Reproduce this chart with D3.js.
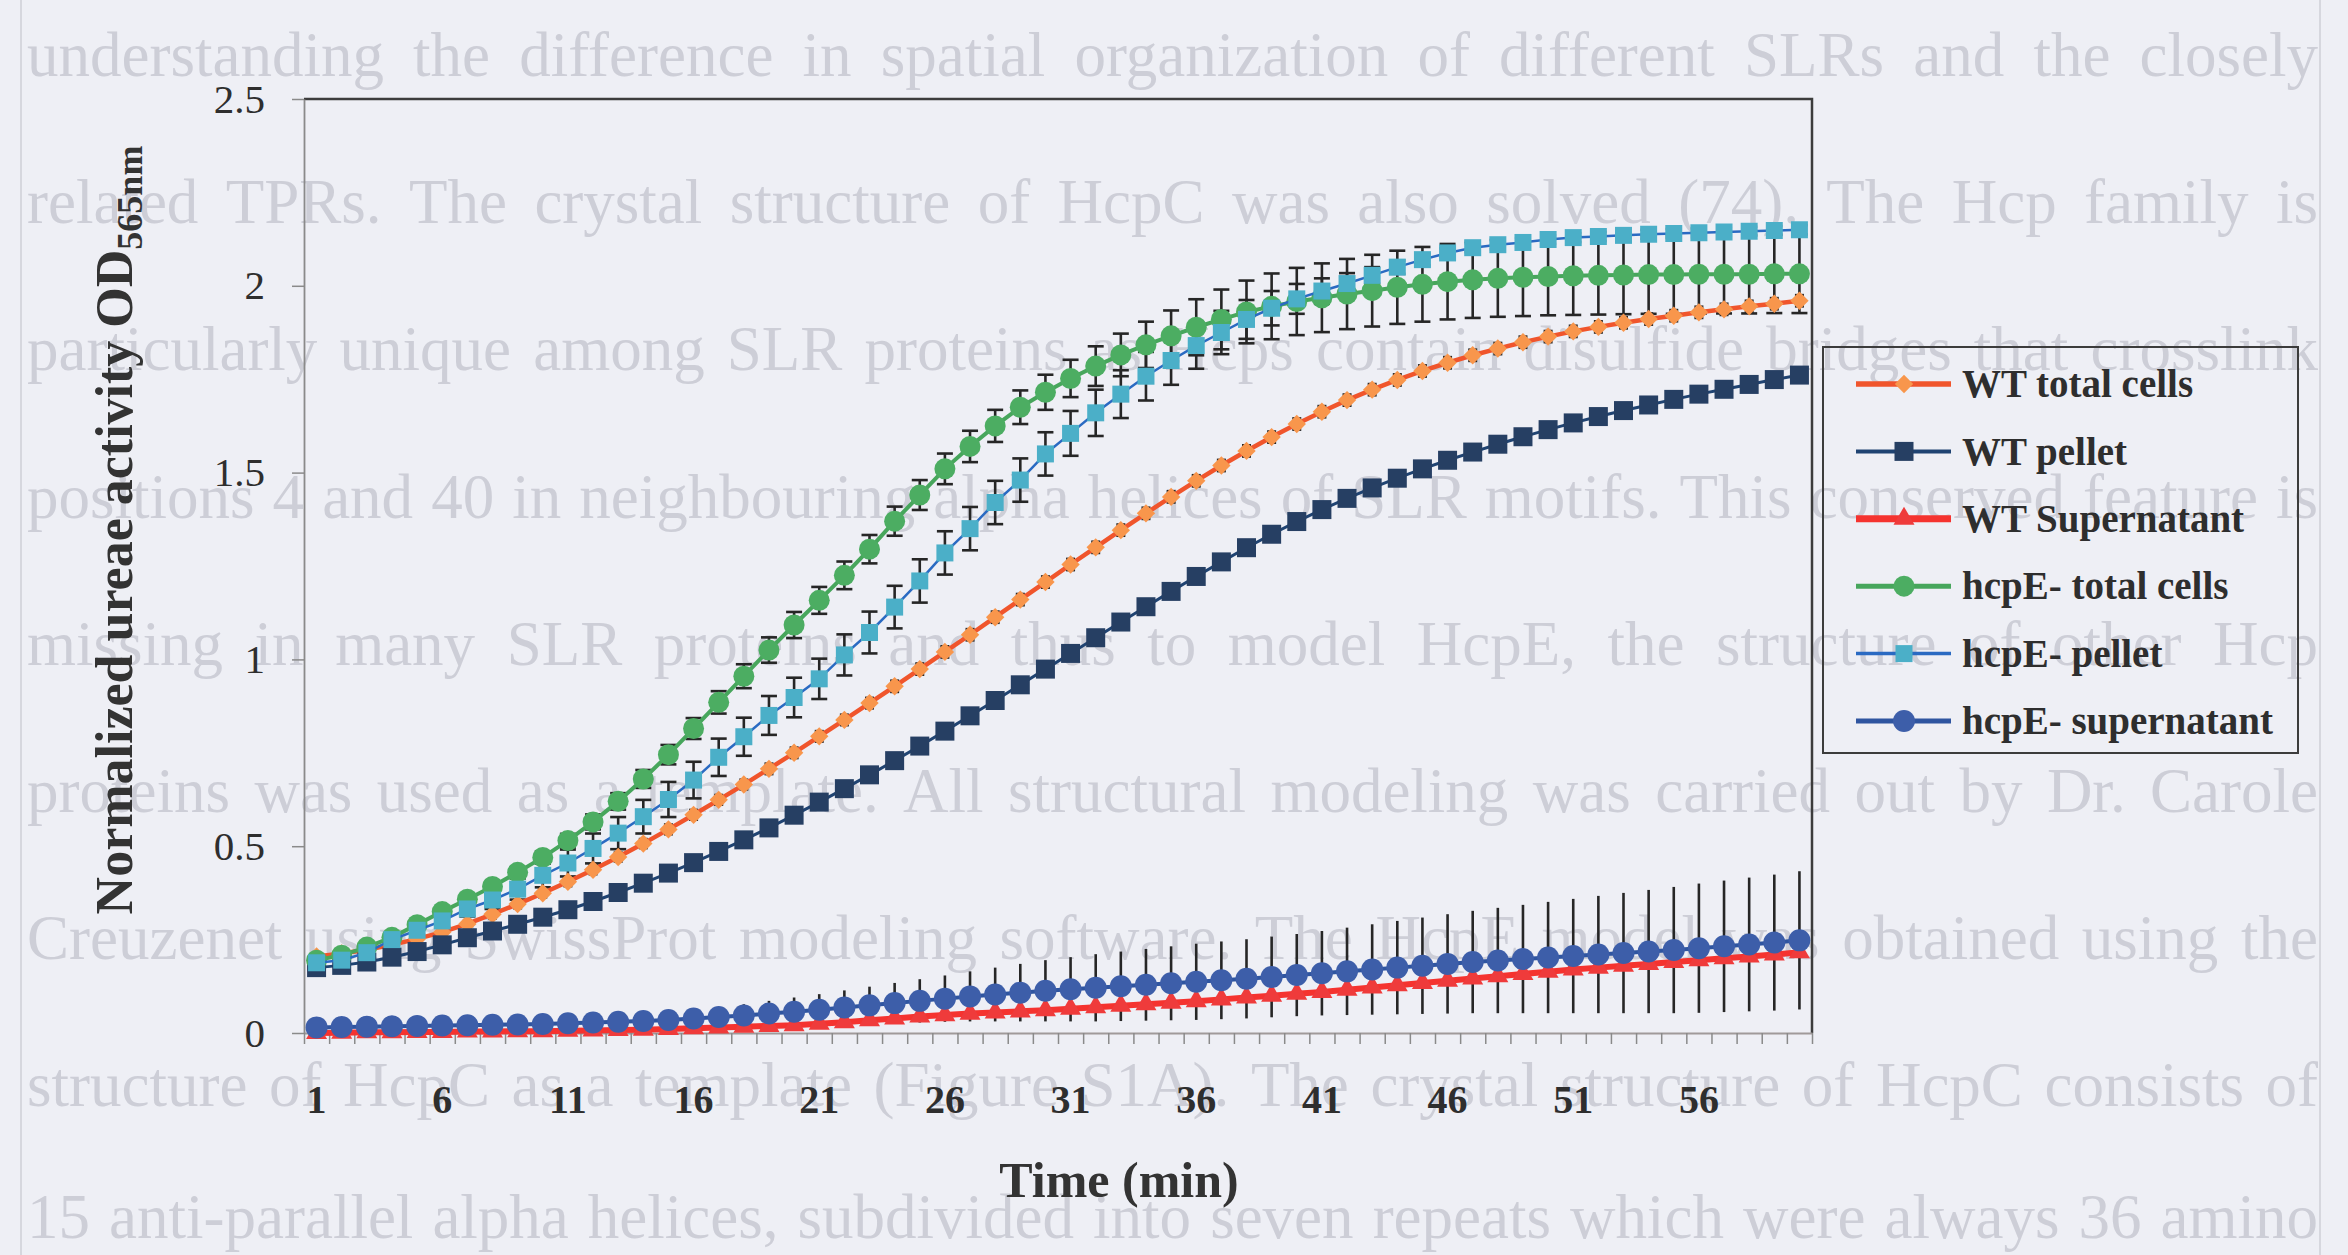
<!DOCTYPE html>
<html><head><meta charset="utf-8">
<script src="https://cdn.jsdelivr.net/npm/d3@7"></script>
<style>html,body{margin:0;padding:0;background:#eeeff5;} svg{display:block}</style>
</head><body>
<svg id="chart" width="2348" height="1255"></svg>
<script>
// ---------- data ----------
const times = [1,2,3,4,5,6,7,8,9,10,11,12,13,14,15,16,17,18,19,20,21,22,23,24,25,26,27,28,29,30,
               31,32,33,34,35,36,37,38,39,40,41,42,43,44,45,46,47,48,49,50,51,52,53,54,55,56,57,58,59,60];
const xTickLabels = [1,6,11,16,21,26,31,36,41,46,51,56];
const yTickValues = [0,0.5,1,1.5,2,2.5];
const seriesNames = ["WT total cells","WT pellet","WT Supernatant","hcpE- total cells","hcpE- pellet","hcpE- supernatant"];

const wtTotal = [.205,.213,.223,.236,.252,.270,.292,.318,.345,.374,.405,.437,.471,.507,.545,.584,.624,.665,.707,.750,
                 .794,.838,.883,.928,.974,1.020,1.066,1.113,1.160,1.207,1.254,1.300,1.346,1.391,1.435,1.478,1.519,1.558,1.595,1.630,
                 1.663,1.694,1.722,1.748,1.772,1.794,1.814,1.832,1.849,1.864,1.878,1.890,1.901,1.911,1.920,1.929,1.937,1.945,1.952,1.960];
const wtPellet = [.175,.181,.190,.203,.218,.236,.255,.273,.291,.310,.330,.352,.376,.401,.428,.456,.486,.517,.549,.583,
                  .618,.654,.691,.729,.768,.808,.849,.890,.932,.974,1.016,1.058,1.100,1.141,1.182,1.222,1.261,1.299,1.335,1.369,
                  1.401,1.431,1.459,1.485,1.510,1.533,1.555,1.576,1.596,1.615,1.633,1.650,1.666,1.681,1.696,1.710,1.723,1.736,1.749,1.761];
const wtSuper = [.000,.001,.002,.002,.003,.003,.004,.004,.005,.005,.006,.007,.008,.009,.011,.013,.015,.017,.019,.021,
                 .025,.029,.034,.039,.044,.048,.052,.055,.058,.061,.065,.069,.073,.077,.081,.085,.090,.095,.100,.105,
                 .110,.116,.122,.128,.134,.140,.146,.152,.158,.164,.170,.175,.180,.185,.190,.195,.200,.205,.210,.216];
const hcpTotal = [.195,.208,.230,.256,.290,.325,.358,.392,.430,.470,.515,.565,.620,.680,.745,.815,.885,.955,1.025,1.092,
                  1.158,1.225,1.295,1.370,1.440,1.510,1.570,1.625,1.675,1.715,1.752,1.785,1.815,1.842,1.866,1.889,1.910,1.930,1.945,1.958,
                  1.968,1.978,1.987,1.996,2.004,2.011,2.016,2.020,2.023,2.025,2.027,2.028,2.029,2.030,2.030,2.031,2.031,2.031,2.032,2.032];
const hcpPellet = [.188,.195,.215,.250,.275,.300,.332,.356,.385,.422,.455,.494,.535,.579,.625,.677,.738,.793,.850,.898,
                   .948,1.012,1.072,1.140,1.210,1.285,1.350,1.420,1.480,1.550,1.605,1.660,1.710,1.758,1.800,1.840,1.875,1.910,1.940,1.965,
                   1.986,2.006,2.028,2.050,2.070,2.088,2.102,2.110,2.116,2.124,2.129,2.132,2.135,2.138,2.140,2.142,2.144,2.146,2.148,2.150];
const hcpSuper = [.015,.016,.017,.018,.019,.020,.021,.022,.023,.024,.026,.028,.030,.032,.035,.039,.043,.047,.052,.057,
                  .062,.068,.074,.080,.086,.092,.098,.103,.108,.113,.117,.121,.125,.129,.133,.137,.141,.145,.150,.155,
                  .160,.165,.170,.175,.180,.185,.190,.194,.198,.202,.206,.210,.214,.218,.222,.227,.232,.237,.242,.248];

const wtTotalErr = [.010,.010,.010,.010,.010,.010,.010,.011,.011,.011,.012,.012,.012,.012,.013,.013,.013,.013,.014,.014,
                    .014,.014,.014,.015,.015,.015,.015,.015,.015,.015,.015,.015,.015,.015,.015,.015,.015,.015,.015,.015,
                    .015,.015,.015,.015,.015,.015,.015,.015,.015,.015,.015,.015,.015,.015,.015,.015,.015,.015,.015,.015];
const hcpTotalErr = [.005,.005,.005,.005,.006,.008,.010,.012,.014,.016,.018,.020,.022,.024,.026,.028,.030,.032,.034,.035,
                     .036,.037,.038,.039,.040,.041,.042,.043,.045,.047,.050,.053,.057,.062,.068,.075,.080,.084,.088,.090,
                     .092,.094,.096,.098,.100,.101,.102,.103,.104,.104,.105,.105,.105,.105,.105,.105,.105,.105,.105,.105];
const hcpPelletErr = [.005,.005,.005,.008,.012,.016,.020,.024,.028,.032,.036,.040,.043,.045,.047,.049,.050,.051,.052,.053,
                      .054,.055,.056,.057,.058,.058,.058,.058,.058,.058,.060,.062,.064,.065,.065,.062,.058,.052,.046,.040,
                      .034,.028,.022,.018,.015,.012,.012,.012,.012,.012,.012,.012,.012,.012,.012,.012,.012,.012,.012,.012];
const hcpSuperErr = [.005,.005,.006,.006,.007,.007,.008,.008,.009,.010,.011,.012,.014,.016,.019,.022,.026,.030,.034,.038,
                     .042,.046,.050,.054,.058,.062,.067,.072,.077,.082,.086,.090,.093,.096,.099,.102,.104,.106,.108,.110,
                     .113,.117,.121,.125,.129,.133,.137,.141,.145,.149,.153,.157,.161,.165,.169,.173,.176,.179,.182,.185];

const pageText = [
 "understanding the difference in spatial organization of different SLRs and the closely",
 "related TPRs. The crystal structure of HcpC was also solved (74). The Hcp family is",
 "particularly unique among SLR proteins as Hcps contain disulfide bridges that crosslink",
 "positions 4 and 40 in neighbouring alpha helices of SLR motifs. This conserved feature is",
 "missing in many SLR proteins and thus to model HcpE, the structure of other Hcp",
 "proteins was used as a template. All structural modeling was carried out by Dr. Carole",
 "Creuzenet using SwissProt modeling software. The HcpE model was obtained using the",
 "structure of HcpC as a template (Figure S1A). The crystal structure of HcpC consists of",
 "15 anti-parallel alpha helices, subdivided into seven repeats which were always 36 amino"
];

// ---------- layout ----------
const svg = d3.select("#chart");
const L = 304, R = 1812, T = 99, B = 1033;
const serif = "'Liberation Serif','Times New Roman',serif";

svg.append("rect").attr("width",2348).attr("height",1255).attr("fill","#eeeff5");

// faint page text behind the chart (scanned page)
const pg = svg.append("g").attr("fill","#cdced7").style("font-family",serif).style("font-size","63px");
pageText.forEach((line,i)=>{
  const base = Math.min(76 + i*147.2, 1238);
  const words = line.split(" ");
  const nodes = words.map(w=>pg.append("text").attr("y",base).text(w));
  const widths = nodes.map(n=>n.node().getComputedTextLength());
  const total = d3.sum(widths);
  const gap = (2318 - 27 - total)/(words.length-1);
  let xx = 27;
  nodes.forEach((n,k)=>{ n.attr("x",xx); xx += widths[k] + gap; });
});
svg.append("line").attr("x1",21).attr("x2",21).attr("y1",0).attr("y2",1255).attr("stroke","#d6d7de").attr("stroke-width",2);
svg.append("line").attr("x1",2320).attr("x2",2320).attr("y1",0).attr("y2",1255).attr("stroke","#d6d7de").attr("stroke-width",2);

const x = d3.scaleBand().domain(times).range([L,R]).padding(0);
const cx = t => x(t) + x.bandwidth()/2;
const y = d3.scaleLinear().domain([0,2.5]).range([B,T]);
const xb = d3.scaleLinear().domain([0,times.length]).range([L,R]);

// plot border (top / right)
svg.append("path").attr("d",`M${L},${T}H${R}V${B}`).attr("fill","none").attr("stroke","#3c3c3c").attr("stroke-width",2.5);

// y axis
const ya = svg.append("g").attr("transform",`translate(${L},0)`)
  .call(d3.axisLeft(y).tickValues(yTickValues).tickFormat(d=>String(d)).tickSize(12).tickSizeOuter(0).tickPadding(27));
ya.select(".domain").attr("stroke","#8a8a8a").attr("stroke-width",1.8);
ya.selectAll(".tick line").attr("stroke","#8a8a8a").attr("stroke-width",1.5);
ya.selectAll("text").style("font-family",serif).style("font-size","41px").attr("fill","#2e2e2e");

// x axis: tick marks between categories
const xa = svg.append("g").attr("transform",`translate(0,${B})`)
  .call(d3.axisBottom(xb).tickValues(d3.range(0,times.length+1)).tickFormat("").tickSize(11).tickSizeOuter(0));
xa.select(".domain").attr("stroke","#a09a9a").attr("stroke-width",1.8);
xa.selectAll(".tick line").attr("stroke","#8a8a8a").attr("stroke-width",1.5);
// x axis labels
const xl = svg.append("g").attr("transform",`translate(0,${B})`)
  .call(d3.axisBottom(x).tickValues(xTickLabels).tickSize(0));
xl.select(".domain").remove();
xl.selectAll("text").attr("y",80).attr("dy",0).style("font-family",serif).style("font-size","40px")
  .style("font-weight","bold").attr("fill","#2e2e2e");

// axis titles
svg.append("text").attr("x",1119).attr("y",1197).attr("text-anchor","middle")
  .style("font-family",serif).style("font-size","50px").style("font-weight","bold").attr("fill","#333")
  .text("Time (min)");
const yt = svg.append("text").attr("transform","translate(132,530) rotate(-90)").attr("text-anchor","middle")
  .style("font-family",serif).style("font-size","52px").style("font-weight","bold").attr("fill","#333");
yt.append("tspan").text("Normalized ureae activity OD");
yt.append("tspan").attr("dy","0.28em").style("font-size","36px").text("565nm");

// ---------- series ----------
const series = [
  {name:seriesNames[0], vals:wtTotal, err:wtTotalErr, line:"#f0552c", lw:4.5, fill:"#f8964c", sym:"diamond", size:13, cap:9},
  {name:seriesNames[1], vals:wtPellet, err:null, line:"#1f4372", lw:3, fill:"#263f63", sym:"square", size:19},
  {name:seriesNames[2], vals:wtSuper, err:null, line:"#f5332f", lw:6, fill:"#ef3b3b", sym:"triangle", size:21},
  {name:seriesNames[3], vals:hcpTotal, err:hcpTotalErr, line:"#47a65c", lw:4, fill:"#4cad62", sym:"circle", size:21, cap:16},
  {name:seriesNames[4], vals:hcpPellet, err:hcpPelletErr, line:"#2a6ac2", lw:2.5, fill:"#4bafc8", sym:"square", size:17, cap:16},
  {name:seriesNames[5], vals:hcpSuper, err:hcpSuperErr, line:"#2f55a0", lw:4, fill:"#3d5ea9", sym:"circle", size:22, cap:0}
];

function marker(sel, s){
  if(s.sym==="square"){
    sel.append("path").attr("d",d3.symbol().type(d3.symbolSquare).size(s.size*s.size)()).attr("fill",s.fill);
  } else if(s.sym==="diamond"){
    sel.append("path").attr("d",d3.symbol().type(d3.symbolSquare).size(s.size*s.size)()).attr("transform","rotate(45)").attr("fill",s.fill);
  } else if(s.sym==="circle"){
    sel.append("path").attr("d",d3.symbol().type(d3.symbolCircle).size(Math.PI*s.size*s.size/4)()).attr("fill",s.fill);
  } else if(s.sym==="triangle"){
    sel.append("path").attr("d",d3.symbol().type(d3.symbolTriangle).size(s.size*s.size*Math.sqrt(3)/4)()).attr("fill",s.fill);
  }
}

const plot = svg.append("g");
// error bars first
series.forEach(s=>{
  if(!s.err) return;
  const g = plot.append("g").attr("stroke","#262626").attr("stroke-width",2.6);
  times.forEach((t,i)=>{
    const v = s.vals[i], e = s.err[i], xx = cx(t);
    g.append("line").attr("x1",xx).attr("x2",xx).attr("y1",y(v+e)).attr("y2",y(v-e));
    if(s.cap){
      g.append("line").attr("x1",xx-s.cap/2).attr("x2",xx+s.cap/2).attr("y1",y(v+e)).attr("y2",y(v+e));
      g.append("line").attr("x1",xx-s.cap/2).attr("x2",xx+s.cap/2).attr("y1",y(v-e)).attr("y2",y(v-e));
    }
  });
});
const lineGen = d3.line().x(d=>cx(d.t)).y(d=>y(d.v));
series.forEach(s=>{
  const pts = times.map((t,i)=>({t, v:s.vals[i]}));
  plot.append("path").datum(pts).attr("d",lineGen).attr("fill","none").attr("stroke",s.line).attr("stroke-width",s.lw);
  const mg = plot.append("g");
  pts.forEach(p=>{
    const m = mg.append("g").attr("transform",`translate(${cx(p.t)},${y(p.v)})`);
    marker(m,s);
  });
});

// ---------- legend ----------
const lg = svg.append("g");
lg.append("rect").attr("x",1823).attr("y",347).attr("width",475).attr("height",406)
  .attr("fill","none").attr("stroke","#3c3c3c").attr("stroke-width",2);
series.forEach((s,i)=>{
  const yy = 384 + i*67.4;
  lg.append("line").attr("x1",1856).attr("x2",1951).attr("y1",yy).attr("y2",yy)
    .attr("stroke",s.line).attr("stroke-width",s.lw+1);
  const m = lg.append("g").attr("transform",`translate(1904,${yy})`);
  marker(m,s);
  lg.append("text").attr("x",1962).attr("y",yy).attr("dy","0.34em")
    .style("font-family",serif).style("font-size","39px").style("font-weight","bold").attr("fill","#2e2e2e")
    .text(s.name);
});
</script>
</body></html>
